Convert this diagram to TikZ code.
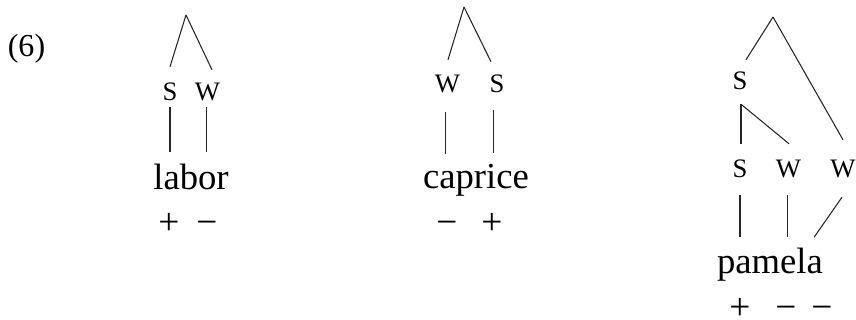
\documentclass[tikz,border=0pt]{standalone}
\usepackage{fontspec}
\setmainfont{Liberation Serif}
\usetikzlibrary{calc}
\tikzset{
  lbl/.style={inner sep=0pt, font=\fontsize{20}{20}\selectfont},
  word/.style={inner sep=0pt, font=\fontsize{27.5}{28}\selectfont},
  sgn/.style={inner sep=0pt, anchor=base, font=\fontsize{28}{28}\selectfont},
  num/.style={inner sep=0pt, font=\fontsize{24}{24}\selectfont},
  br/.style={line width=0.8pt, black!85},
}
\begin{document}
\begin{tikzpicture}[x=0.75pt, y=-0.75pt]
\useasboundingbox (0,0) rectangle (856,320);
\node[num] (ex) at (26.5,49) {(6)};

% tree 1: labor
\coordinate (a1) at (186,15);
\node[lbl] (s1) at (170,92) {S};
\node[lbl] (w1) at (207.5,92) {W};
\node[word] (labor) at (191,177) {labor};
\node[sgn] (p1) at (169,235) {+};
\node[sgn] (m1) at (207,234) {−};
\draw[br] (a1) -- ($(s1.north)+(0,-16)$);
\draw[br] (a1) -- ($(w1.north)+(4.5,-13)$);
\draw[br] ($(s1.south)+(0,6)$) -- ($(s1.south |- labor.north)+(0,-12)$);
\draw[br] ($(w1.south)+(-0.8,6)$) -- ($(w1.south |- labor.north)+(-0.8,-12)$);

% tree 2: caprice
\coordinate (a2) at (464,7);
\node[lbl] (w2) at (447.5,84) {W};
\node[lbl] (s2) at (497,84) {S};
\node[word] (caprice) at (476,180) {caprice};
\node[sgn] (m2) at (447,234) {−};
\node[sgn] (p2) at (492,235) {+};
\draw[br] (a2) -- ($(w2.north)+(0.5,-15)$);
\draw[br] (a2) -- ($(s2.north)+(-6,-13)$);
\draw[br] ($(w2.south)+(-1.8,19)$) -- ($(w2.south |- caprice.north)+(-1.8,-10)$);
\draw[br] ($(s2.south)+(-3.7,17)$) -- ($(s2.south |- caprice.north)+(-3.7,-11)$);

% tree 3: pamela
\coordinate (a3) at (773,17);
\node[lbl] (s3) at (740,81) {S};
\node[lbl] (s4) at (740,169) {S};
\node[lbl] (w4) at (788.5,169) {W};
\node[lbl] (w5) at (843,169) {W};
\node[word] (pamela) at (770,265) {pamela};
\node[sgn] (p3) at (740,319) {+};
\node[sgn] (m3) at (786,319) {−};
\node[sgn] (m4) at (822,319) {−};
\coordinate (b3) at ($(s3.south)+(1,14)$);
\draw[br] (a3) -- ($(s3.north)+(6,-12)$);
\draw[br] (a3) -- ($(w5.north)+(0,-20)$);
\draw[br] (b3) -- ($(s4.north)+(1,-16)$);
\draw[br] (b3) -- ($(w4.north)+(0.5,-16)$);
\draw[br] ($(s4.south)+(0,17)$) -- ($(s4.south |- pamela.north)+(0,-11)$);
\draw[br] ($(w4.south)+(-0.8,17)$) -- ($(w4.south |- pamela.north)+(-0.8,-11)$);
\draw[br] ($(w5.south)+(-1,19)$) -- ($(pamela.north east)+(-9,-11)$);
\end{tikzpicture}
\end{document}
